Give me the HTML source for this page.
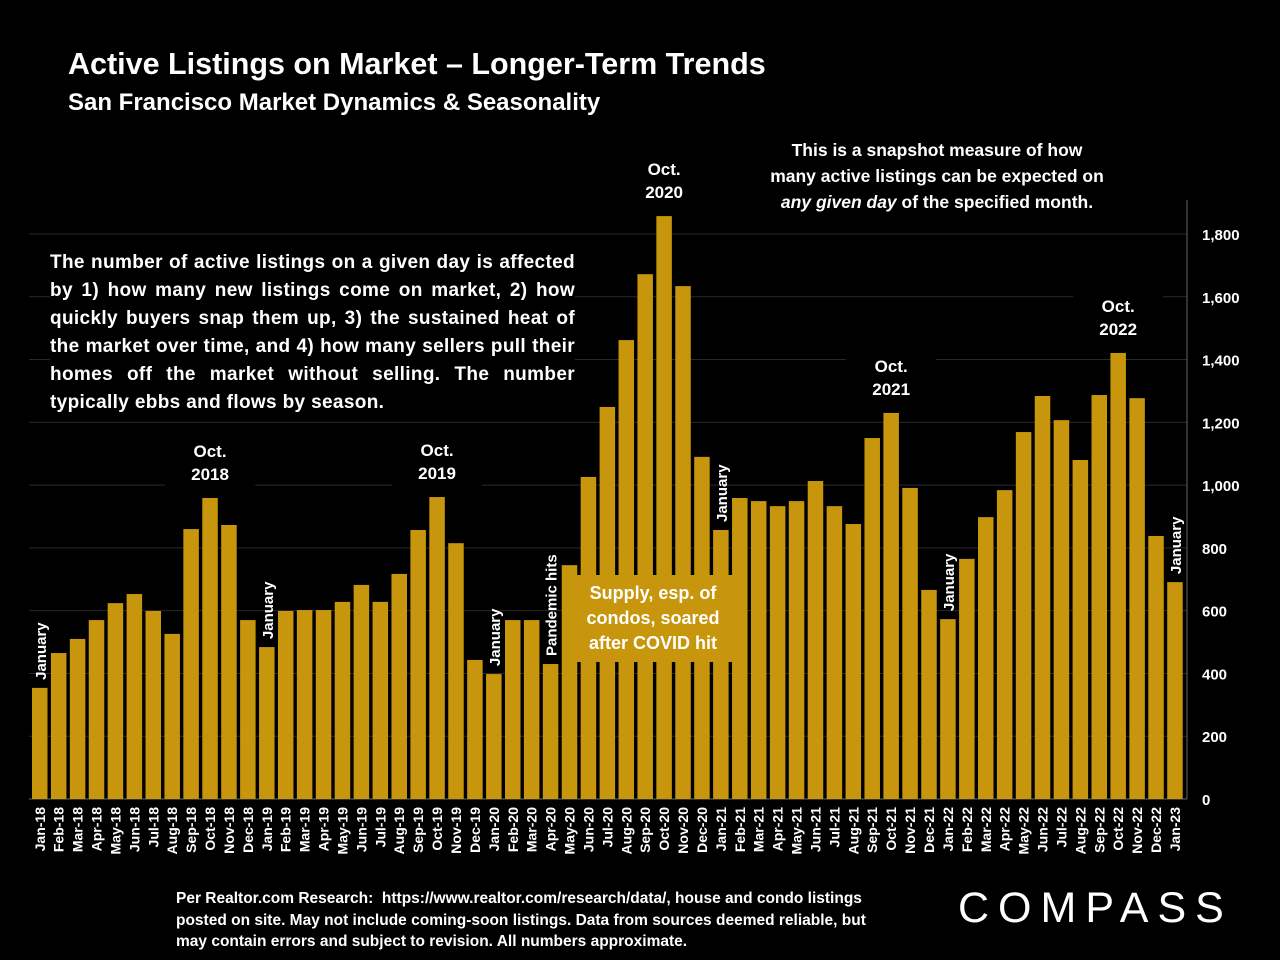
<!DOCTYPE html>
<html><head><meta charset="utf-8"><style>
body{margin:0;background:#000;width:1280px;height:960px;overflow:hidden;font-family:"Liberation Sans",sans-serif;color:#fff}
.t{position:absolute;font-weight:bold}
</style></head><body>
<div class="t" style="left:68px;top:47px;font-size:30.5px">Active Listings on Market – Longer-Term Trends</div>
<div class="t" style="left:68px;top:89px;font-size:24px">San Francisco Market Dynamics &amp; Seasonality</div>
<svg id="c" width="1280" height="960" style="position:absolute;left:0;top:0"></svg>
<div class="t" style="left:747px;top:137px;width:380px;text-align:center;font-size:17.5px;line-height:26px;background:#000;white-space:nowrap">This is a snapshot measure of how<br>many active listings can be expected on<br><i>any given day</i> of the specified month.</div>
<div class="t" style="left:50px;top:249px;width:525px;text-align:justify;text-align-last:left;font-size:19px;letter-spacing:0.35px;line-height:28px;background:#000">The number of active listings on a given day is affected by 1) how many new listings come on market, 2) how quickly buyers snap them up, 3) the sustained heat of the market over time, and 4) how many sellers pull their homes off the market without selling. The number typically ebbs and flows by season.</div>
<div class="t" style="left:573px;top:575px;width:160px;height:87px;background:#c8960c;font-size:18px;line-height:25px;text-align:center;padding-top:6px;box-sizing:border-box">Supply, esp. of condos, soared after COVID hit</div>
<div class="t" style="left:176px;top:888px;font-size:15.5px;line-height:21.5px">Per Realtor.com Research:&nbsp; https://www.realtor.com/research/data/, house and condo listings<br>posted on site. May not include coming-soon listings. Data from sources deemed reliable, but<br>may contain errors and subject to revision. All numbers approximate.</div>
<div style="position:absolute;left:958px;top:884px;font-size:43px;letter-spacing:9px;font-family:'Liberation Sans',sans-serif">COMPASS</div>
<script>
const categories=["Jan-18","Feb-18","Mar-18","Apr-18","May-18","Jun-18","Jul-18","Aug-18","Sep-18","Oct-18","Nov-18","Dec-18","Jan-19","Feb-19","Mar-19","Apr-19","May-19","Jun-19","Jul-19","Aug-19","Sep-19","Oct-19","Nov-19","Dec-19","Jan-20","Feb-20","Mar-20","Apr-20","May-20","Jun-20","Jul-20","Aug-20","Sep-20","Oct-20","Nov-20","Dec-20","Jan-21","Feb-21","Mar-21","Apr-21","May-21","Jun-21","Jul-21","Aug-21","Sep-21","Oct-21","Nov-21","Dec-21","Jan-22","Feb-22","Mar-22","Apr-22","May-22","Jun-22","Jul-22","Aug-22","Sep-22","Oct-22","Nov-22","Dec-22","Jan-23"];
const values=[354,465,510,570,624,653,599,526,860,959,873,570,484,599,602,602,628,682,628,717,857,962,815,443,398,570,570,430,745,1026,1249,1462,1672,1857,1634,1090,857,959,949,933,949,1013,933,876,1150,1230,991,666,573,765,898,984,1169,1284,1207,1080,1287,1421,1277,838,691];
const yTicks=[0,200,400,600,800,1000,1200,1400,1600,1800];
const rotNotes=[["Jan-18","January"],["Jan-19","January"],["Jan-20","January"],["Apr-20","Pandemic hits"],["Jan-21","January"],["Jan-22","January"],["Jan-23","January"]];
const octNotes=[["Oct-18","Oct.","2018"],["Oct-19","Oct.","2019"],["Oct-20","Oct.","2020"],["Oct-21","Oct.","2021"],["Oct-22","Oct.","2022"]];
const svg=document.getElementById('c'),NS='http://www.w3.org/2000/svg';
const x0=32,step=18.92,bw=15.5,y0=799,k=565/1800,axX=1187;
const xs=i=>x0+i*step, ys=v=>y0-v*k;
function mk(t,a,txt){const e=document.createElementNS(NS,t);for(const n in a)e.setAttribute(n,a[n]);if(txt!=null)e.textContent=txt;svg.appendChild(e);return e;}
yTicks.forEach(v=>{
 if(v>0){const g=mk('line',{x1:x0-3,x2:axX,y1:ys(v),y2:ys(v),stroke:'#2a2a2a','stroke-width':1});}
 const t=mk('text',{x:1202,y:ys(v)+6,fill:'#fff','font-size':15,'font-weight':'bold','font-family':'Liberation Sans, sans-serif'},v.toLocaleString('en-US'));
 
});
const ax=mk('line',{x1:axX,x2:axX,y1:200,y2:y0,stroke:'#666'});
const bx=mk('line',{x1:x0-3,x2:axX,y1:y0,y2:y0,stroke:'#666'});
values.forEach((v,i)=>{
 const r=mk('rect',{x:xs(i),y:ys(v),width:bw,height:v*k,fill:'#c8960c'});
 
 const cx=xs(i)+bw/2+5;
 const t=mk('text',{x:0,y:0,fill:'#fff','font-size':14,'font-weight':'bold','font-family':'Liberation Sans, sans-serif','text-anchor':'end',transform:`translate(${cx},${y0+8}) rotate(-90)`},categories[i]);
 
});
rotNotes.forEach(([c,s])=>{const i=categories.indexOf(c);const cx=xs(i)+bw/2+6;
 const t=mk('text',{x:0,y:0,fill:'#fff','font-size':15,'font-weight':'bold','font-family':'Liberation Sans, sans-serif',transform:`translate(${cx},${ys(values[i])-8}) rotate(-90)`},s);
 });
octNotes.forEach(([c,a,b])=>{const i=categories.indexOf(c);const cx=xs(i)+bw/2;const top=ys(values[i]);
 const bg=mk('rect',{x:cx-45,y:top-60,width:90,height:52,fill:'#000'});
 [a,b].forEach((s,j)=>{const t=mk('text',{x:cx,y:top-41+j*23,fill:'#fff','font-size':17,'font-weight':'bold','text-anchor':'middle','font-family':'Liberation Sans, sans-serif'},s);
 });});
</script>
</body></html>
